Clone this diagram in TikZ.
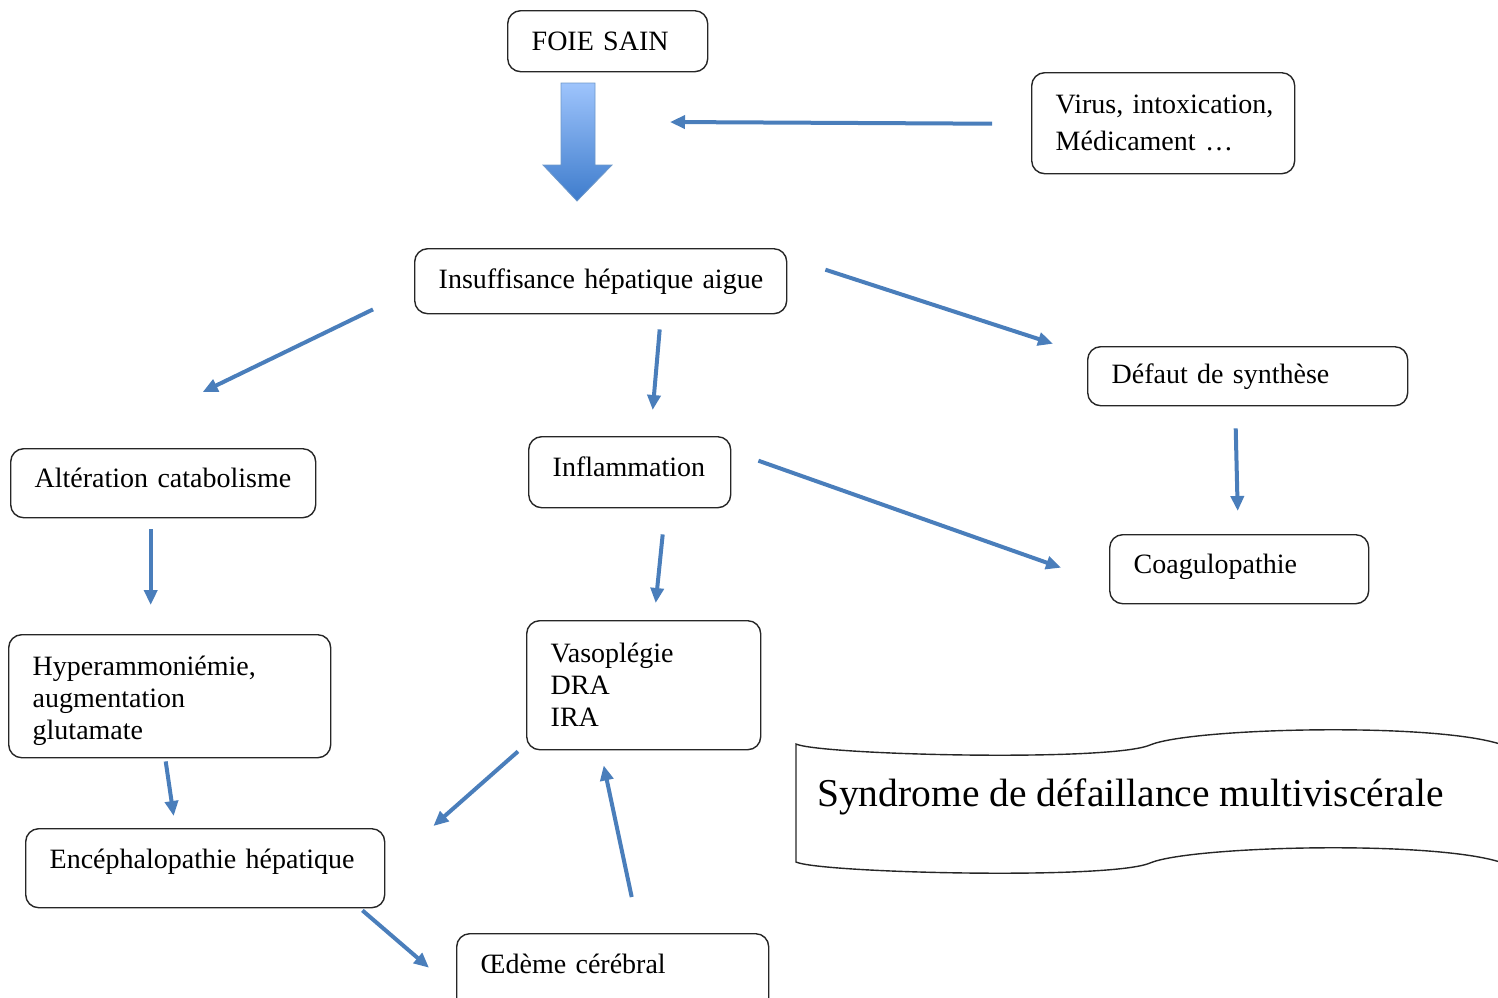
\documentclass[tikz,border=0pt]{standalone}
\usepackage{fontspec}
\setmainfont{Liberation Serif}
\usepackage{xcolor}
\definecolor{flecheblue}{RGB}{74,126,187}
\definecolor{flechehaut}{RGB}{158,196,252}
\definecolor{flechebas}{RGB}{62,124,204}
\usetikzlibrary{arrows.meta}
\tikzset{
  bloc/.style={draw=black!85, line width=1.4pt, rounded corners=13pt, anchor=north west,
    align=left, inner xsep=24pt, inner ysep=0pt, font=\fontsize{28}{32}\selectfont},
  fl/.style={draw=flecheblue, line width=4pt, -{Triangle[length=15pt,width=13pt]}}
}

\begin{document}
\begin{tikzpicture}[x=1pt, y=-1pt]
  \clip (0,0) rectangle (1498,997);

  \node [bloc, text width=152pt, minimum height=61pt] (foie) at (507,10) {FOIE SAIN};
  \node [bloc, text width=215pt, minimum height=101pt] (virus) at (1031,72) {\mbox{Virus, intoxication,}\\[5pt]\mbox{Médicament …}};
  \node [bloc, text width=324pt, minimum height=65pt] (ins) at (414,248) {\mbox{Insuffisance hépatique aigue}};
  \node [bloc, text width=272pt, minimum height=59pt] (defaut) at (1087,346) {Défaut de synthèse};
  \node [bloc, text width=257pt, minimum height=69pt, text depth=10pt] (alter) at (10,448) {\mbox{Altération catabolisme}};
  \node [bloc, text width=154pt, minimum height=71pt, text depth=12pt] (infl) at (528,436) {Inflammation};
  \node [bloc, text width=211pt, minimum height=69pt, text depth=10pt] (coag) at (1109,534) {Coagulopathie};
  \node [bloc, text width=274pt, minimum height=123pt] (hyper) at (8,634) {\rule{0pt}{29pt}Hyperammoniémie,\\augmentation\\glutamate};
  \node [bloc, text width=186pt, minimum height=129pt] (vaso) at (526,620) {Vasoplégie\\DRA\\IRA};
  \node [bloc, text width=311pt, minimum height=79pt, text depth=18pt] (ence) at (25,828) {\mbox{Encéphalopathie hépatique}};
  \node [bloc, text width=264pt, minimum height=80pt, text depth=20pt] (oedeme) at (456,933) {Œdème cérébral};

  % grosse fleche
  \shade [top color=flechehaut, bottom color=flechebas, draw=flecheblue!80, line width=0.8pt]
    (561,83) -- (595,83) -- (595,165) -- (612,165) -- (577,201) -- (543,165) -- (561,165) -- cycle;
  \coordinate (entree) at (670,122);

  \draw [draw=black!85, line width=1.4pt]
    (796,744) .. controls (820,755) and (1110,762) .. (1150,745)
    .. controls (1190,728) and (1430,722) .. (1500,744) -- (1500,862)
    .. controls (1430,840) and (1190,846) .. (1150,863)
    .. controls (1110,880) and (820,873) .. (796,862) -- cycle;
  \node [font=\fontsize{39.5}{44}\selectfont, anchor=base west, inner sep=0pt] (syndrome) at (817,806)
    {Syndrome de défaillance multiviscérale};

  \draw [fl] ([shift={(-39,0.5)}]virus.west) -- (entree);
  \draw [fl] ([shift={(-41,-5)}]ins.south west) -- ([shift={(39.5,-56)}]alter.north);
  \draw [fl] ([shift={(59,15)}]ins.south) -- ([shift={(23,-26)}]infl.north);
  \draw [fl] ([shift={(38,-11.5)}]ins.east) -- ([shift={(-34,-32.5)}]defaut.west);
  \draw [fl] ([shift={(-12,22)}]defaut.south) -- ([shift={(-1.5,-23)}]coag.north);
  \draw [fl] ([shift={(-12.5,11)}]alter.south) -- ([shift={(-19,-29)}]hyper.north);
  \draw [fl] ([shift={(33,26)}]infl.south) -- ([shift={(12,-17)}]vaso.north);
  \draw [fl] ([shift={(27,-11.5)}]infl.east) -- ([shift={(-48,-1.5)}]coag.west);
  \draw [fl] ([shift={(-4,3)}]hyper.south) -- ([shift={(-31.5,-12)}]ence.north);
  \draw [fl] ([shift={(-8,1)}]vaso.south west) -- ([shift={(48,-2)}]ence.north east);
  \draw [fl] ([shift={(-23,2)}]ence.south east) -- ([shift={(-27,-6)}]oedeme.west);
  \draw [fl] ([shift={(19,-36)}]oedeme.north) -- ([shift={(-40,15)}]vaso.south);

\end{tikzpicture}
\end{document}
